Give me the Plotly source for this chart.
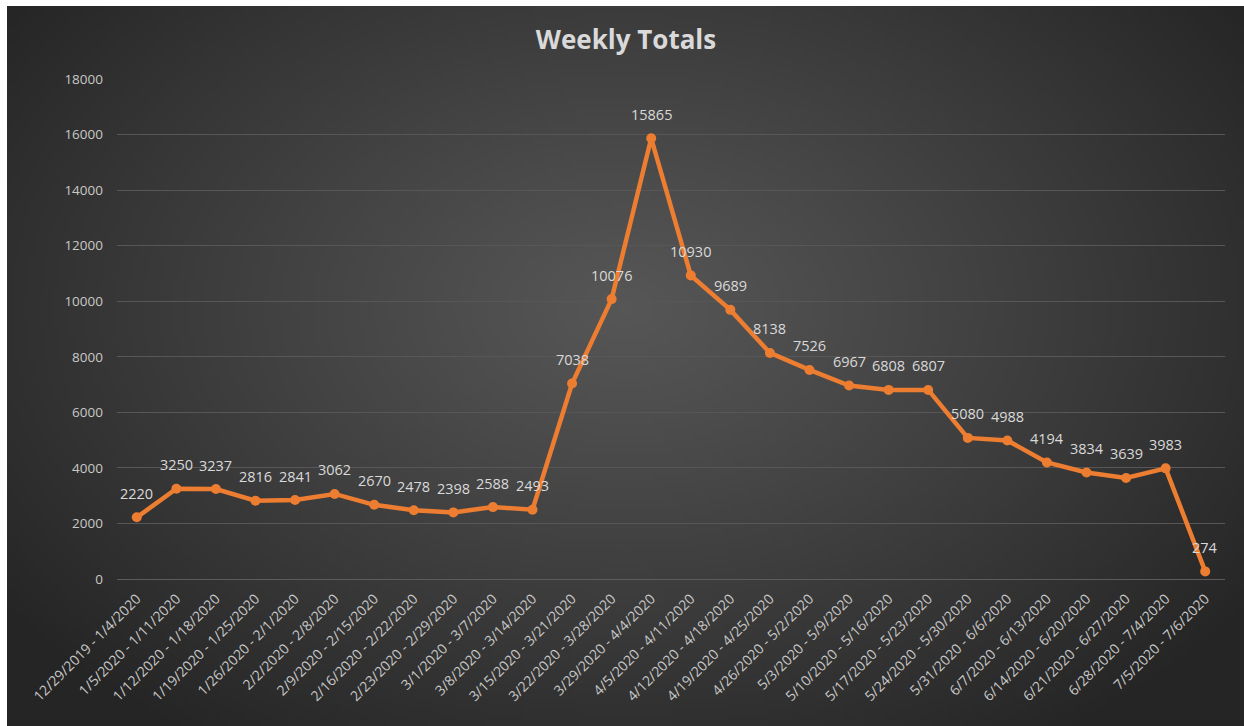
import base64
import math
import struct
import zlib

import plotly.graph_objects as go

categories = [
    "12/29/2019 - 1/4/2020", "1/5/2020 - 1/11/2020", "1/12/2020 - 1/18/2020",
    "1/19/2020 - 1/25/2020", "1/26/2020 - 2/1/2020", "2/2/2020 - 2/8/2020",
    "2/9/2020 - 2/15/2020", "2/16/2020 - 2/22/2020", "2/23/2020 - 2/29/2020",
    "3/1/2020 - 3/7/2020", "3/8/2020 - 3/14/2020", "3/15/2020 - 3/21/2020",
    "3/22/2020 - 3/28/2020", "3/29/2020 - 4/4/2020", "4/5/2020 - 4/11/2020",
    "4/12/2020 - 4/18/2020", "4/19/2020 - 4/25/2020", "4/26/2020 - 5/2/2020",
    "5/3/2020 - 5/9/2020", "5/10/2020 - 5/16/2020", "5/17/2020 - 5/23/2020",
    "5/24/2020 - 5/30/2020", "5/31/2020 - 6/6/2020", "6/7/2020 - 6/13/2020",
    "6/14/2020 - 6/20/2020", "6/21/2020 - 6/27/2020", "6/28/2020 - 7/4/2020",
    "7/5/2020 - 7/6/2020",
]
weekly_totals = [
    2220, 3250, 3237, 2816, 2841, 3062, 2670, 2478, 2398, 2588, 2493,
    7038, 10076, 15865, 10930, 9689, 8138, 7526, 6967, 6808, 6807,
    5080, 4988, 4194, 3834, 3639, 3983, 274,
]
y_ticks = [0, 2000, 4000, 6000, 8000, 10000, 12000, 14000, 16000, 18000]
y_tick_labels = [str(v) for v in y_ticks]

W, H = 1244, 726


def make_gradient_png(w, h):
    c_in = (86, 86, 86)
    c_out = (37, 37, 37)
    cx, cy = 0.50, 0.42
    rows = []
    for j in range(h):
        row = bytearray([0])
        fy = (j + 0.5) / h
        for i in range(w):
            fx = (i + 0.5) / w
            d = math.sqrt(((fx - cx) / 0.62) ** 2 + ((fy - cy) / 0.72) ** 2)
            t = min(1.0, d) ** 1.1
            row += bytes(int(round(c_in[k] + (c_out[k] - c_in[k]) * t)) for k in range(3))
        rows.append(bytes(row))
    raw = b"".join(rows)

    def chunk(tag, data):
        c = struct.pack(">I", len(data)) + tag + data
        return c + struct.pack(">I", zlib.crc32(tag + data) & 0xFFFFFFFF)

    png = b"\x89PNG\r\n\x1a\n"
    png += chunk(b"IHDR", struct.pack(">IIBBBBB", w, h, 8, 2, 0, 0, 0))
    png += chunk(b"IDAT", zlib.compress(raw, 9))
    png += chunk(b"IEND", b"")
    return "data:image/png;base64," + base64.b64encode(png).decode()


bg = make_gradient_png(248, 144)

orange = "#ED7D31"
text_col = "#d9d9d9"
tick_col = "#c8c8c8"
font_family = "Open Sans, Lato, DejaVu Sans, sans-serif"

fig = go.Figure()
fig.add_trace(go.Scatter(
    x=categories,
    y=weekly_totals,
    mode="lines+markers",
    line=dict(color=orange, width=4.5),
    marker=dict(color=orange, size=10),
    cliponaxis=False,
    hoverinfo="x+y",
))

for cat, val in zip(categories, weekly_totals):
    fig.add_annotation(
        x=cat, y=val, text=str(val),
        showarrow=False, yanchor="middle", xanchor="center",
        yshift=24,
        font=dict(family=font_family, size=14.5, color=text_col),
    )

left_px, top_px = 7, 6
fig.add_layout_image(dict(
    source=bg,
    xref="paper", yref="paper",
    x=left_px / W, y=1 - top_px / H,
    sizex=1 - left_px / W, sizey=1 - top_px / H,
    xanchor="left", yanchor="top",
    sizing="stretch",
    layer="below",
))

fig.update_layout(
    width=W, height=H,
    margin=dict(l=0, r=0, t=0, b=0),
    paper_bgcolor="white",
    plot_bgcolor="rgba(0,0,0,0)",
    showlegend=False,
    title=dict(
        text="<b>Weekly Totals</b>",
        x=626 / W, xanchor="center",
        y=1 - 40 / H, yanchor="middle",
        font=dict(family=font_family, size=26, color=text_col),
    ),
    xaxis=dict(
        domain=[117 / W, 1225 / W],
        type="category",
        range=[-0.5, len(categories) - 0.5],
        tickangle=-45,
        tickfont=dict(family=font_family, size=14, color=tick_col),
        showgrid=False,
        showline=False,
        ticks="",
        ticklabelstandoff=8,
        automargin=False,
    ),
    yaxis=dict(
        domain=[(H - 579) / H, (H - 79) / H],
        range=[0, 18000],
        tickvals=y_ticks,
        ticktext=y_tick_labels,
        tickfont=dict(family=font_family, size=13.5, color=tick_col),
        gridcolor="#575757",
        gridwidth=1,
        zeroline=True,
        zerolinecolor="#5c5c5c",
        zerolinewidth=1,
        showline=False,
        ticks="",
        ticklabelstandoff=13,
        automargin=False,
    ),
)

fig.write_html(
    "out.html",
    config={"displayModeBar": False},
    post_script="document.body.style.margin='0';document.body.style.overflow='hidden';",
)
